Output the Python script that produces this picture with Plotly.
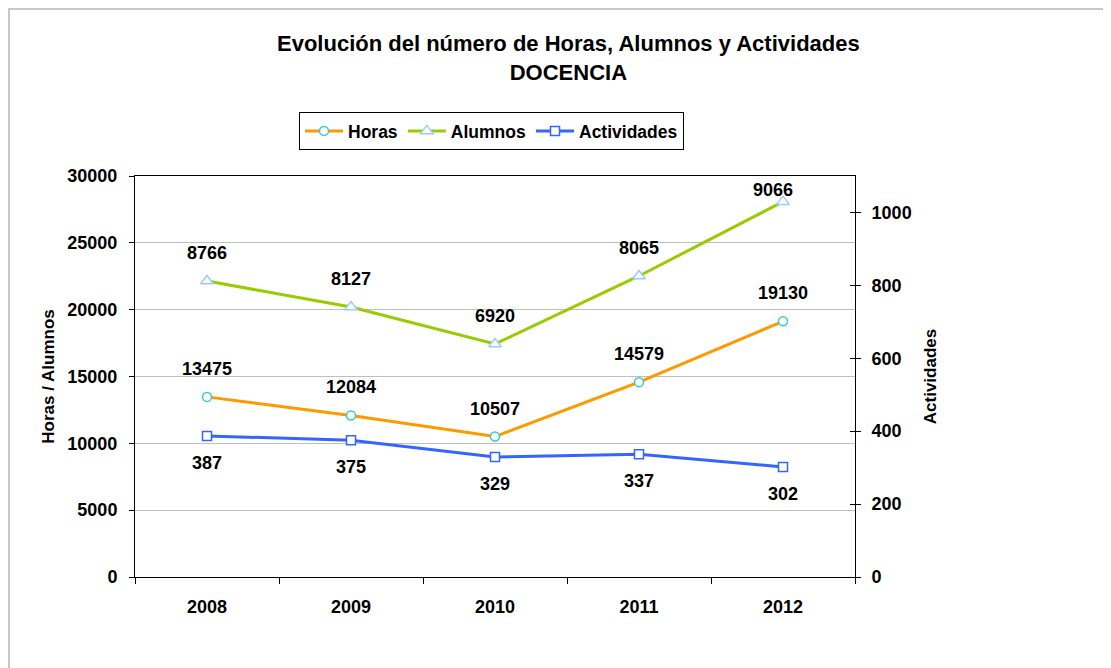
import plotly.graph_objects as go

# ---- data ----
years = ["2008", "2009", "2010", "2011", "2012"]
horas = [13475, 12084, 10507, 14579, 19130]
alumnos_plotted = [22140, 20200, 17430, 22520, 28080]
alumnos_labels = ["8766", "8127", "6920", "8065", "9066"]
actividades = [387, 375, 329, 337, 302]

left_range = [0, 30000]
right_range = [0, 1100]

FONT = "Arial, 'Liberation Sans', sans-serif"
ORANGE = "#FF9900"
GREEN = "#99CC00"
BLUE = "#3366FF"

# layout geometry (pixels, figure coordinates)
W, H = 1111, 668
L, T = 127, 168
plot_w, plot_h = 720, 401
R = W - L - plot_w
B = H - T - plot_h

def px_x(px):
    return (px - L) / plot_w

def px_y(py):
    return (T + plot_h - py) / plot_h

fig = go.Figure()

fig.add_trace(go.Scatter(
    x=years, y=horas, name="Horas", mode="lines+markers",
    line=dict(color=ORANGE, width=3),
    marker=dict(symbol="circle", size=9, color="white",
                line=dict(color="#33CCCC", width=1.5)),
    yaxis="y", hoverinfo="skip"))
fig.add_trace(go.Scatter(
    x=years, y=alumnos_plotted, name="Alumnos", mode="lines+markers",
    line=dict(color=GREEN, width=3),
    marker=dict(symbol="triangle-up", size=11, color="white",
                line=dict(color="#99CCFF", width=1.5)),
    yaxis="y", hoverinfo="skip"))
fig.add_trace(go.Scatter(
    x=years, y=actividades, name="Actividades", mode="lines+markers",
    line=dict(color=BLUE, width=3),
    marker=dict(symbol="square", size=9, color="white",
                line=dict(color=BLUE, width=1.5)),
    yaxis="y2", hoverinfo="skip"))
# invisible trace to carry the inner tick marks of the right axis
fig.add_trace(go.Scatter(
    x=years, y=actividades, mode="lines", showlegend=False,
    line=dict(color="rgba(0,0,0,0)"), yaxis="y3", hoverinfo="skip"))

# ---- data labels ----
lab_font = dict(family=FONT, size=18, color="black", weight="bold")
ppu_left = plot_h / (left_range[1] - left_range[0])

for i, v in enumerate(horas):
    fig.add_annotation(x=i, y=v, xref="x", yref="y", text=str(v),
                       showarrow=False, font=lab_font, yshift=28)
for i, (v, t) in enumerate(zip(alumnos_plotted, alumnos_labels)):
    dist_top = (left_range[1] - v) * ppu_left
    shift = min(28, dist_top - 14)
    fig.add_annotation(x=i, y=v, xref="x", yref="y", text=t,
                       showarrow=False, font=lab_font, yshift=shift,
                       xshift=0 if shift == 28 else -10)
for i, v in enumerate(actividades):
    fig.add_annotation(x=i, y=v, xref="x", yref="y2", text=str(v),
                       showarrow=False, font=lab_font, yshift=-27)

# ---- title ----
fig.add_annotation(
    xref="paper", yref="paper",
    x=px_x(560), y=px_y(21),
    xanchor="center", yanchor="top", showarrow=False,
    text="Evolución del número de Horas, Alumnos y Actividades<br>DOCENCIA",
    font=dict(family=FONT, size=22, color="black", weight="bold"))

# ---- outer chart border ----
fig.add_shape(type="rect", xref="paper", yref="paper",
              x0=px_x(1), y0=px_y(H + 50), x1=px_x(W + 50), y1=px_y(1),
              line=dict(color="#C8C8C8", width=2), layer="below")

tick_font = dict(family=FONT, size=18, color="black", weight="bold")
title_font = dict(family=FONT, size=17, color="black", weight="bold")

fig.update_layout(
    width=W, height=H,
    margin=dict(l=L, r=R, t=T, b=B),
    paper_bgcolor="white", plot_bgcolor="white",
    font=dict(family=FONT, color="black"),
    showlegend=True,
    legend=dict(
        orientation="h", x=px_x(291), y=px_y(104),
        xanchor="left", yanchor="top",
        bordercolor="black", borderwidth=1, bgcolor="white",
        font=dict(family=FONT, size=17.5, color="black", weight="bold"),
        itemwidth=38, tracegroupgap=0),
    xaxis=dict(
        type="category", range=[-0.5, 4.5],
        showline=True, linecolor="black", linewidth=1, mirror=True,
        ticks="outside", ticklen=6, tickcolor="black",
        tickson="boundaries", showgrid=False,
        tickfont=tick_font, ticklabelstandoff=13),
    yaxis=dict(
        range=left_range, dtick=5000, tick0=0, tickformat="d",
        showline=True, linecolor="black", linewidth=1,
        ticks="outside", ticklen=5, tickcolor="black",
        showgrid=True, gridcolor="#BFBFBF", gridwidth=1, zeroline=False,
        tickfont=tick_font, ticklabelstandoff=8,
        title=dict(text="Horas / Alumnos", font=title_font, standoff=8)),
    yaxis2=dict(
        range=right_range, dtick=200, tick0=0, tickformat="d",
        overlaying="y", side="right", anchor="x",
        showline=True, linecolor="black", linewidth=1,
        ticks="outside", ticklen=5, tickcolor="black",
        showgrid=False, zeroline=False,
        tickfont=tick_font, ticklabelstandoff=7,
        title=dict(text="Actividades", font=title_font, standoff=13)),
    yaxis3=dict(
        range=right_range, dtick=200, tick0=0,
        overlaying="y", side="right", anchor="x",
        showline=False, ticks="inside", ticklen=5, tickcolor="black",
        showticklabels=False, showgrid=False, zeroline=False),
)

fig.write_html("out.html")
